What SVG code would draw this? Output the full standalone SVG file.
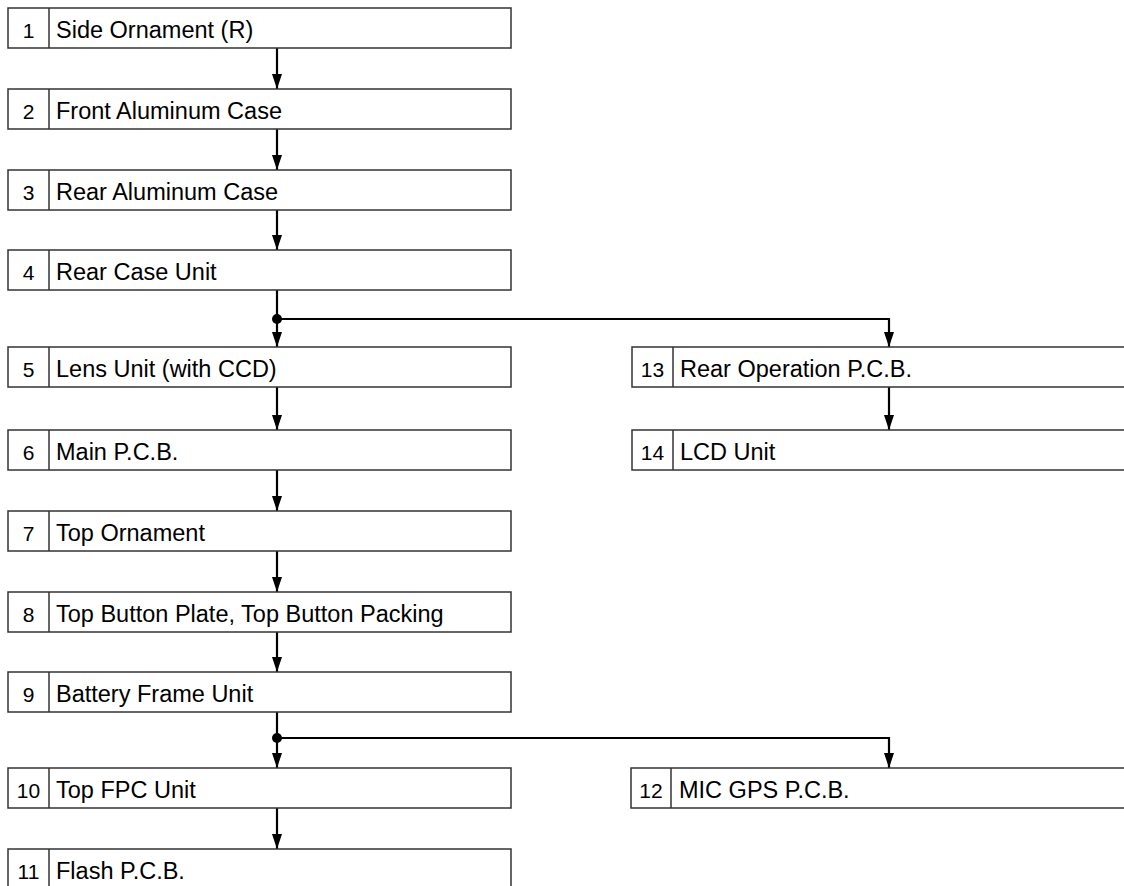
<svg xmlns="http://www.w3.org/2000/svg" width="1124" height="886" viewBox="0 0 1124 886">
<defs>
<style>
.box{fill:#fff;stroke:#333;stroke-width:1.5}
.num{font-family:"Liberation Sans",Arial,sans-serif;font-size:21px;fill:#000;text-anchor:middle}
.lbl{font-family:"Liberation Sans",Arial,sans-serif;font-size:23.5px;fill:#000}
.con{fill:none;stroke:#000;stroke-width:2.2}
</style>
<marker id="ah" viewBox="0 0 15 10" refX="15" refY="5" markerWidth="15" markerHeight="10" markerUnits="userSpaceOnUse" orient="auto">
<path d="M0,0 L15,5 L0,10 Z" fill="#000"/>
</marker>
</defs>
<rect width="1124" height="886" fill="#fff"/>
<g id="connectors">
<line class="con" x1="277" y1="48" x2="277" y2="89" marker-end="url(#ah)"/>
<line class="con" x1="277" y1="129" x2="277" y2="170" marker-end="url(#ah)"/>
<line class="con" x1="277" y1="210" x2="277" y2="250" marker-end="url(#ah)"/>
<line class="con" x1="277" y1="290" x2="277" y2="347" marker-end="url(#ah)"/>
<polyline class="con" points="277,319 889,319 889,347" marker-end="url(#ah)"/>
<circle cx="277" cy="319" r="5" fill="#000"/>
<line class="con" x1="277" y1="387" x2="277" y2="430" marker-end="url(#ah)"/>
<line class="con" x1="277" y1="470" x2="277" y2="511" marker-end="url(#ah)"/>
<line class="con" x1="277" y1="551" x2="277" y2="592" marker-end="url(#ah)"/>
<line class="con" x1="277" y1="632" x2="277" y2="672" marker-end="url(#ah)"/>
<line class="con" x1="277" y1="712" x2="277" y2="768" marker-end="url(#ah)"/>
<polyline class="con" points="277,738 889,738 889,768" marker-end="url(#ah)"/>
<circle cx="277" cy="738" r="5" fill="#000"/>
<line class="con" x1="277" y1="808" x2="277" y2="849" marker-end="url(#ah)"/>
<line class="con" x1="889" y1="387" x2="889" y2="430" marker-end="url(#ah)"/>
</g>
<g id="n1"><rect class="box" x="8" y="8" width="503" height="40"/><line class="box" x1="49" y1="8" x2="49" y2="48"/><text class="num" x="28.5" y="38">1</text><text class="lbl" x="56" y="38">Side Ornament (R)</text></g>
<g id="n2"><rect class="box" x="8" y="89" width="503" height="40"/><line class="box" x1="49" y1="89" x2="49" y2="129"/><text class="num" x="28.5" y="119">2</text><text class="lbl" x="56" y="119">Front Aluminum Case</text></g>
<g id="n3"><rect class="box" x="8" y="170" width="503" height="40"/><line class="box" x1="49" y1="170" x2="49" y2="210"/><text class="num" x="28.5" y="200">3</text><text class="lbl" x="56" y="200">Rear Aluminum Case</text></g>
<g id="n4"><rect class="box" x="8" y="250" width="503" height="40"/><line class="box" x1="49" y1="250" x2="49" y2="290"/><text class="num" x="28.5" y="280">4</text><text class="lbl" x="56" y="280">Rear Case Unit</text></g>
<g id="n5"><rect class="box" x="8" y="347" width="503" height="40"/><line class="box" x1="49" y1="347" x2="49" y2="387"/><text class="num" x="28.5" y="377">5</text><text class="lbl" x="56" y="377">Lens Unit (with CCD)</text></g>
<g id="n6"><rect class="box" x="8" y="430" width="503" height="40"/><line class="box" x1="49" y1="430" x2="49" y2="470"/><text class="num" x="28.5" y="460">6</text><text class="lbl" x="56" y="460">Main P.C.B.</text></g>
<g id="n7"><rect class="box" x="8" y="511" width="503" height="40"/><line class="box" x1="49" y1="511" x2="49" y2="551"/><text class="num" x="28.5" y="541">7</text><text class="lbl" x="56" y="541">Top Ornament</text></g>
<g id="n8"><rect class="box" x="8" y="592" width="503" height="40"/><line class="box" x1="49" y1="592" x2="49" y2="632"/><text class="num" x="28.5" y="622">8</text><text class="lbl" x="56" y="622">Top Button Plate, Top Button Packing</text></g>
<g id="n9"><rect class="box" x="8" y="672" width="503" height="40"/><line class="box" x1="49" y1="672" x2="49" y2="712"/><text class="num" x="28.5" y="702">9</text><text class="lbl" x="56" y="702">Battery Frame Unit</text></g>
<g id="n10"><rect class="box" x="8" y="768" width="503" height="40"/><line class="box" x1="49" y1="768" x2="49" y2="808"/><text class="num" x="28.5" y="798">10</text><text class="lbl" x="56" y="798">Top FPC Unit</text></g>
<g id="n11"><rect class="box" x="8" y="849" width="503" height="40"/><line class="box" x1="49" y1="849" x2="49" y2="889"/><text class="num" x="28.5" y="879">11</text><text class="lbl" x="56" y="879">Flash P.C.B.</text></g>
<g id="n13"><rect class="box" x="632" y="347" width="503" height="40"/><line class="box" x1="673" y1="347" x2="673" y2="387"/><text class="num" x="652.5" y="377">13</text><text class="lbl" x="680" y="377">Rear Operation P.C.B.</text></g>
<g id="n14"><rect class="box" x="632" y="430" width="503" height="40"/><line class="box" x1="673" y1="430" x2="673" y2="470"/><text class="num" x="652.5" y="460">14</text><text class="lbl" x="680" y="460">LCD Unit</text></g>
<g id="n12"><rect class="box" x="631" y="768" width="503" height="40"/><line class="box" x1="671" y1="768" x2="671" y2="808"/><text class="num" x="651" y="798">12</text><text class="lbl" x="679" y="798">MIC GPS P.C.B.</text></g>
</svg>
